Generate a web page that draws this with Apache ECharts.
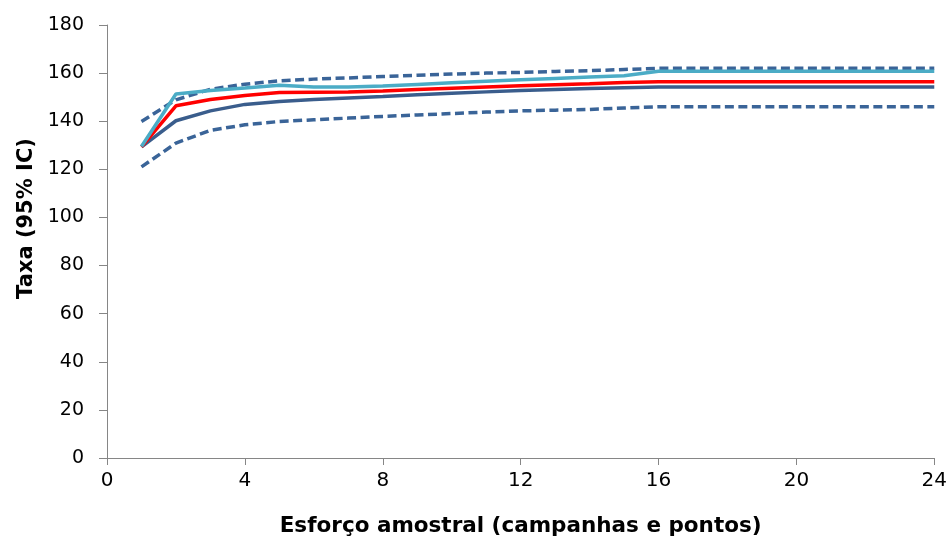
<!DOCTYPE html>
<html>
<head>
<meta charset="utf-8">
<script src="https://cdn.jsdelivr.net/npm/echarts@6/dist/echarts.min.js"></script>
<style>
  html, body { margin: 0; padding: 0; background: #fff; }
  #chart { width: 950px; height: 542px; }
</style>
</head>
<body>
<div id="chart"></div>
<script>
// esforço amostral (1..24)
const effort = [1, 2, 3, 4, 5, 6, 7, 8, 9, 10, 11, 12, 13, 14, 15, 16, 17, 18, 19, 20, 21, 22, 23, 24]

// valores
const observed = [129.5, 151.3, 152.8, 153.8, 155.0, 154.2, 154.2, 154.6, 155.3, 156.0, 156.6, 157.2,
  157.8, 158.4, 158.9, 160.8, 160.8, 160.8, 160.8, 160.8, 160.8, 160.8, 160.8, 160.8]
const estimateRed = [129.3, 146.4, 149.0, 150.7, 151.9, 152.0, 152.1, 152.6, 153.2, 153.7, 154.2, 154.7,
  155.2, 155.6, 156.1, 156.4, 156.4, 156.4, 156.4, 156.4, 156.4, 156.4, 156.4, 156.4]
const meanRich = [129.3, 140.2, 144.3, 147.0, 148.2, 149.0, 149.7, 150.3, 151.0, 151.6, 152.2, 152.8,
  153.2, 153.6, 153.9, 154.2, 154.2, 154.2, 154.2, 154.2, 154.2, 154.2, 154.2, 154.2]
const upperCI = [139.9, 148.9, 153.3, 155.4, 156.8, 157.5, 158.0, 158.6, 159.1, 159.6, 160.0, 160.3,
  160.7, 161.0, 161.5, 162.0, 162.0, 162.0, 162.0, 162.0, 162.0, 162.0, 162.0, 162.0]
const lowerCI = [121.0, 130.9, 136.2, 138.5, 139.9, 140.6, 141.3, 142.0, 142.6, 143.2, 143.8, 144.3,
  144.6, 144.9, 145.5, 146.0, 146.0, 146.0, 146.0, 146.0, 146.0, 146.0, 146.0, 146.0]

const xTitle = 'Esforço amostral (campanhas e pontos)'
const yTitle = 'Taxa (95% IC)'

const pairs = (vals) => effort.map((x, i) => [x, vals[i]])

const FONT = 'DejaVu Sans, Verdana, sans-serif'
const AXIS_GRAY = '#868686'

const lineSeries = (name, vals, color, width, dashed) => ({
  name,
  type: 'line',
  data: pairs(vals),
  showSymbol: false,
  symbol: 'none',
  lineStyle: {
    color,
    width,
    type: dashed ? [9, 4.5] : 'solid',
    cap: 'butt'
  },
  silent: true,
  animation: false
})

const chart = echarts.init(document.getElementById('chart'), null, { renderer: 'canvas' })

chart.setOption({
  backgroundColor: '#ffffff',
  animation: false,
  textStyle: { fontFamily: FONT },
  grid: { left: 107, right: 15, top: 25, bottom: 83, containLabel: false },
  xAxis: {
    type: 'value',
    min: 0,
    max: 24,
    interval: 4,
    name: xTitle,
    nameLocation: 'middle',
    nameGap: 57,
    nameTextStyle: { fontFamily: FONT, fontSize: 21.5, fontWeight: 'bold', color: '#000' },
    axisLine: { show: true, lineStyle: { color: AXIS_GRAY, width: 1 } },
    axisTick: { show: true, inside: false, length: 7, lineStyle: { color: AXIS_GRAY } },
    axisLabel: { fontFamily: FONT, fontSize: 20, color: '#000', margin: 13 },
    splitLine: { show: false }
  },
  yAxis: {
    type: 'value',
    min: 0,
    max: 180,
    interval: 20,
    name: yTitle,
    nameLocation: 'middle',
    nameGap: 70,
    nameRotate: 90,
    nameTextStyle: { fontFamily: FONT, fontSize: 21, fontWeight: 'bold', color: '#000', padding: [0, 0, 0, 46] },
    axisLine: { show: true, lineStyle: { color: AXIS_GRAY, width: 1 } },
    axisTick: { show: true, inside: false, length: 8, lineStyle: { color: AXIS_GRAY } },
    axisLabel: { fontFamily: FONT, fontSize: 19, color: '#000', margin: 23 },
    splitLine: { show: false }
  },
  series: [
    lineSeries('IC superior', upperCI, '#3A6498', 3.5, true),
    lineSeries('IC inferior', lowerCI, '#3A6498', 3.5, true),
    lineSeries('Média', meanRich, '#3A5D8C', 3.5, false),
    lineSeries('Estimador', estimateRed, '#FF0000', 3.5, false),
    lineSeries('Observado', observed, '#4BACC6', 3.5, false)
  ]
})
</script>
</body>
</html>
